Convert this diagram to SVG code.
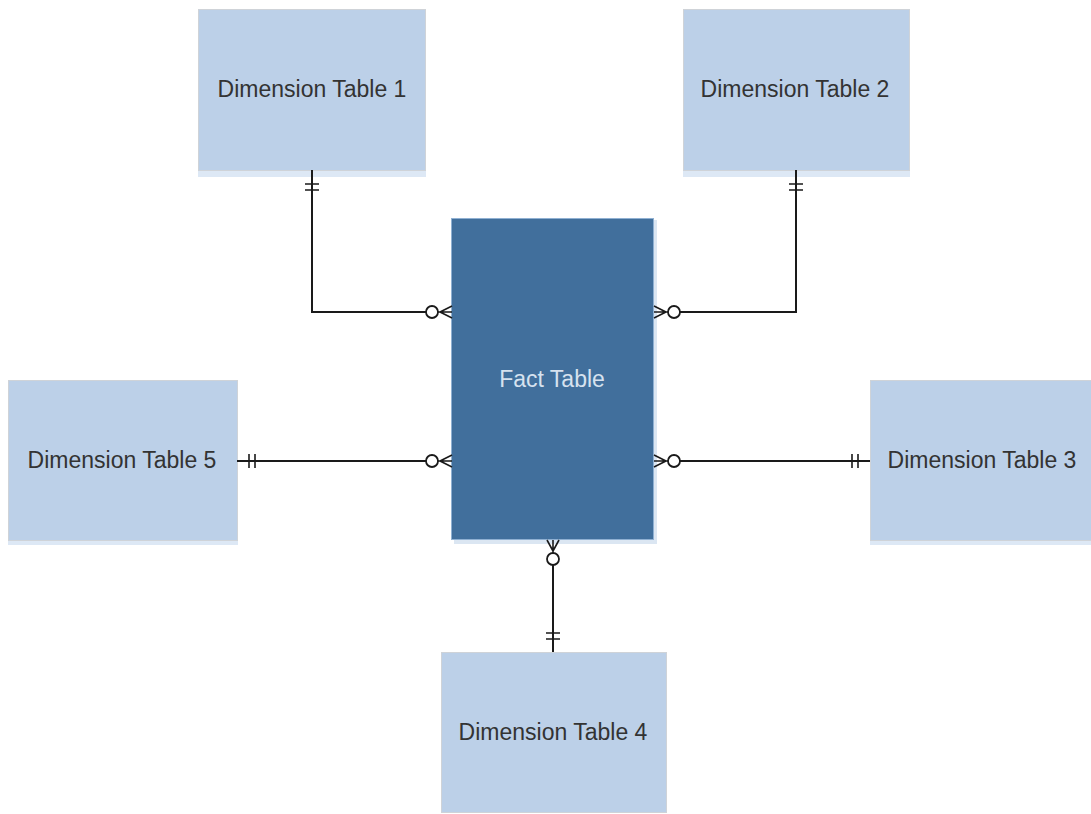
<svg xmlns="http://www.w3.org/2000/svg" width="1091" height="814" viewBox="0 0 1091 814">
<defs>
<style>
.dim{fill:#bcd0e8;stroke:#cfd3d8;stroke-width:1}
.sh{fill:#dde8f5}
.fact{fill:#416f9c;stroke:#8fb0d2;stroke-width:1}
.lbl{font-family:"Liberation Sans",Arial,sans-serif;font-size:23px;fill:#333333;text-anchor:middle}
.flbl{font-family:"Liberation Sans",Arial,sans-serif;font-size:23px;fill:#d6e2ef;text-anchor:middle}
.ln{fill:none;stroke:#1a1a1a;stroke-width:2}
.ci{fill:#ffffff;stroke:#1a1a1a;stroke-width:1.8}
.cf{fill:none;stroke:#1a1a1a;stroke-width:1.6}
</style>
</defs>
<rect width="1091" height="814" fill="#ffffff"/>
<g id="dim1"><rect class="sh" x="198" y="170" width="228" height="7"/><rect class="dim" x="198.5" y="9.5" width="227" height="161"/><text class="lbl" x="312" y="97">Dimension Table 1</text></g>
<g id="dim2"><rect class="sh" x="683" y="170" width="227" height="7"/><rect class="dim" x="683.5" y="9.5" width="226" height="161"/><text class="lbl" x="795" y="97">Dimension Table 2</text></g>
<g id="dim5"><rect class="sh" x="8" y="540" width="230" height="5"/><rect class="dim" x="8.5" y="380.5" width="229" height="160"/><text class="lbl" x="122" y="468">Dimension Table 5</text></g>
<g id="dim3"><rect class="sh" x="870" y="540" width="221" height="5"/><rect class="dim" x="870.5" y="380.5" width="221" height="160"/><text class="lbl" x="982" y="468">Dimension Table 3</text></g>
<g id="dim4"><rect class="dim" x="441.5" y="652.5" width="225" height="160"/><text class="lbl" x="553" y="740">Dimension Table 4</text></g>
<g id="fact"><rect x="454" y="220" width="203" height="324" fill="#dbe6f2"/><rect class="fact" x="451.5" y="218.5" width="202" height="321"/><text class="flbl" x="552" y="387">Fact Table</text></g>
<g id="connectors">
<path class="ln" d="M312,170 V312 H426"/>
<path class="cf" d="M305,184 h14 M305,190 h14"/>
<circle class="ci" cx="432" cy="312" r="6"/>
<path class="cf" d="M438,312 L452,312 M440,312 L452,306 M440,312 L452,318"/>

<path class="ln" d="M796,170 V312 H680"/>
<path class="cf" d="M789,184 h14 M789,190 h14"/>
<circle class="ci" cx="674" cy="312" r="6"/>
<path class="cf" d="M668,312 L654,312 M666,312 L654,306 M666,312 L654,318"/>

<path class="ln" d="M237,461 H426"/>
<path class="cf" d="M249,454 v14 M255,454 v14"/>
<circle class="ci" cx="432" cy="461" r="6"/>
<path class="cf" d="M438,461 L452,461 M440,461 L452,455 M440,461 L452,467"/>

<path class="ln" d="M680,461 H870"/>
<path class="cf" d="M852,454 v14 M858,454 v14"/>
<circle class="ci" cx="674" cy="461" r="6"/>
<path class="cf" d="M668,461 L654,461 M666,461 L654,455 M666,461 L654,467"/>

<path class="ln" d="M553,565 V652"/>
<path class="cf" d="M546,633 h14 M546,639 h14"/>
<circle class="ci" cx="553" cy="559" r="6"/>
<path class="cf" d="M553,553 L553,540 M553,551 L547,540 M553,551 L559,540"/>
</g>
</svg>
